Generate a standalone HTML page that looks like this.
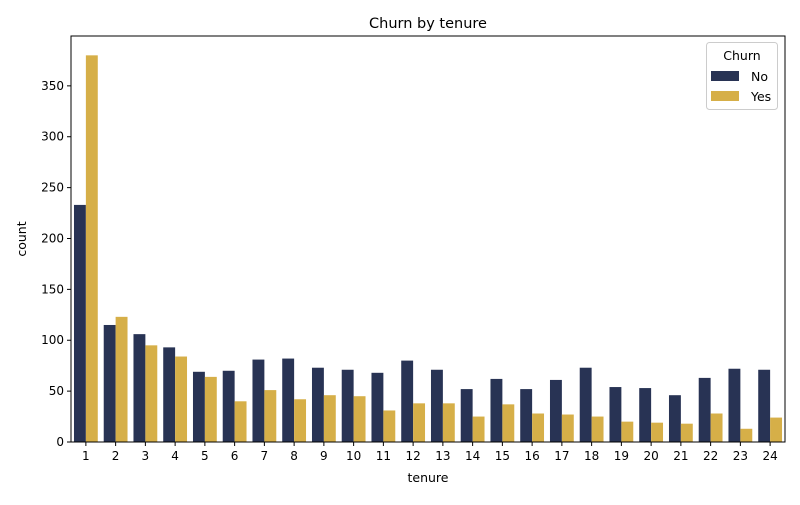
<!DOCTYPE html>
<html><head><meta charset="utf-8"><style>
body{margin:0;background:#fff;font-family:"Liberation Sans","DejaVu Sans",sans-serif}
svg text{font-family:"DejaVu Sans","Liberation Sans",sans-serif}
</style></head><body>
<svg id="c" width="800" height="500" viewBox="0 0 800 500"></svg>
<script>
const categories=[1,2,3,4,5,6,7,8,9,10,11,12,13,14,15,16,17,18,19,20,21,22,23,24];
const noValues=[233,115,106,93,69,70,81,82,73,71,68,80,71,52,62,52,61,73,54,53,46,63,72,71];
const yesValues=[380,123,95,84,64,40,51,42,46,45,31,38,38,25,37,28,27,25,20,19,18,28,13,24];
const yTicks=[0,50,100,150,200,250,300,350];
const series=[{name:"No",values:noValues,color:"#283354"},{name:"Yes",values:yesValues,color:"#d6af48"}];
const L=71,R=785,T=36,B=442,YMAX=399;
const svg=document.getElementById('c');const NS="http://www.w3.org/2000/svg";
function el(t,a,txt){const e=document.createElementNS(NS,t);for(const k in a)e.setAttribute(k,a[k]);if(txt!==undefined)e.textContent=txt;svg.appendChild(e);return e;}
const band=(R-L)/categories.length;
const x=i=>L+band*i;
const y=v=>B-(v/YMAX)*(B-T);
series.forEach((s,si)=>{s.values.forEach((v,i)=>{
 const r=el('rect',{x:x(i)+band*0.1+si*band*0.4,y:y(v),width:band*0.4,height:B-y(v),fill:s.color});
 
 
});});
yTicks.forEach(t=>{
 const l=el('line',{x1:L-4,x2:L,y1:y(t),y2:y(t),stroke:'#000','stroke-width':1});
 
 const tx=el('text',{x:L-7,y:y(t)+4,'text-anchor':'end','font-size':12},t);
 
});
categories.forEach((c,i)=>{
 const cx=x(i)+band/2;
 const l=el('line',{x1:cx,x2:cx,y1:B,y2:B+4,stroke:'#000','stroke-width':1});
 
 const tx=el('text',{x:cx,y:B+18,'text-anchor':'middle','font-size':12},c);
 
});
const fr=el('rect',{x:L,y:T,width:R-L,height:B-T,fill:'none',stroke:'#000','stroke-width':1});

</script>
<svg style="position:absolute;left:0;top:0" width="800" height="500">
<text x="428" y="28" text-anchor="middle" font-size="14.5">Churn by tenure</text>
<text x="428" y="482" text-anchor="middle" font-size="12.5">tenure</text>
<text x="26" y="239" text-anchor="middle" font-size="12.5" transform="rotate(-90 26 239)">count</text>
<g>
<rect x="706.5" y="42.5" width="71" height="67" rx="3" fill="#fff" stroke="#ccc"/>
<text x="742" y="60" text-anchor="middle" font-size="12.5">Churn</text>
<rect x="711" y="71" width="28" height="10" fill="#283354"/>
<text x="751" y="81" font-size="12.5">No</text>
<rect x="711" y="91" width="28" height="10" fill="#d6af48"/>
<text x="751" y="101" font-size="12.5">Yes</text>
</g>
</svg>
</body></html>
